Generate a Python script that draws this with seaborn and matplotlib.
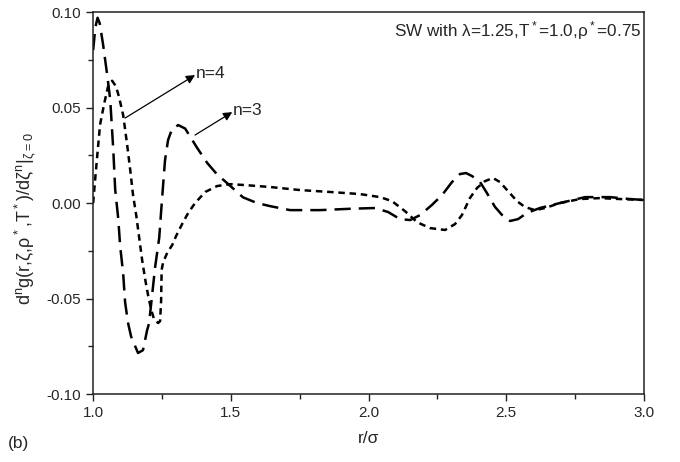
import numpy as np
import pandas as pd
import seaborn as sns
import matplotlib
matplotlib.use("Agg")
import matplotlib.pyplot as plt
from matplotlib.ticker import MultipleLocator

# n=3 curve (long dashes)
r_n3 = [1.000, 1.008, 1.016, 1.024, 1.036, 1.051, 1.062, 1.073, 1.080, 1.091,
        1.098, 1.109, 1.116, 1.127, 1.138, 1.163, 1.181, 1.196, 1.203, 1.225,
        1.240, 1.247, 1.254, 1.261, 1.272, 1.287, 1.309, 1.334, 1.377, 1.414,
        1.450, 1.486, 1.544, 1.595, 1.642, 1.715, 1.824, 1.933, 2.024, 2.071,
        2.114, 2.151, 2.187, 2.230, 2.267, 2.303, 2.332, 2.354, 2.376, 2.405,
        2.430, 2.459, 2.488, 2.514, 2.543, 2.575, 2.622, 2.695, 2.786, 2.877,
        2.949, 3.000]
g_n3 = [0.080, 0.092, 0.097, 0.094, 0.083, 0.067, 0.054, 0.028, 0.007, -0.008,
        -0.0225, -0.037, -0.052, -0.063, -0.070, -0.0785, -0.077, -0.0665, -0.063, -0.0335,
        -0.018, -0.004, 0.0094, 0.0225, 0.033, 0.039, 0.0408, 0.039, 0.029, 0.021,
        0.015, 0.0105, 0.003, 0.0, -0.0016, -0.0037, -0.0037, -0.003, -0.0026, -0.0047,
        -0.0084, -0.0089, -0.0063, -0.001, 0.0042, 0.011, 0.0152, 0.0157, 0.0141, 0.011,
        0.0052, -0.002, -0.0068, -0.0094, -0.0084, -0.0052, -0.0026, 0.0, 0.0031, 0.0031,
        0.0021, 0.0016]

# n=4 curve (short dashes)
r_n4 = [1.000, 1.007, 1.015, 1.025, 1.040, 1.054, 1.069, 1.083, 1.094, 1.109,
        1.123, 1.134, 1.145, 1.156, 1.167, 1.178, 1.189, 1.200, 1.211, 1.221,
        1.236, 1.243, 1.2468, 1.2486, 1.254, 1.269, 1.287, 1.301, 1.323, 1.345,
        1.370, 1.407, 1.450, 1.497, 1.552, 1.642, 1.751, 1.860, 1.969, 2.042,
        2.085, 2.132, 2.176, 2.223, 2.278, 2.314, 2.339, 2.368, 2.394, 2.423,
        2.452, 2.477, 2.503, 2.539, 2.568, 2.604, 2.641, 2.695, 2.768, 2.840,
        2.913, 3.000]
g_n4 = [0.0, 0.012, 0.025, 0.041, 0.052, 0.061, 0.064, 0.061, 0.0555, 0.046,
        0.031, 0.018, 0.004, -0.006, -0.018, -0.030, -0.040, -0.0487, -0.056, -0.0607,
        -0.0628, -0.0618, -0.051, -0.035, -0.031, -0.026, -0.022, -0.0173, -0.011, -0.0052,
        0.0, 0.0058, 0.0089, 0.0099, 0.0094, 0.0084, 0.0068, 0.0058, 0.0047, 0.0031,
        0.001, -0.0042, -0.010, -0.0131, -0.0141, -0.011, -0.0063, 0.0026, 0.0079, 0.0115,
        0.0131, 0.011, 0.0068, 0.001, -0.0021, -0.0037, -0.0026, 0.0, 0.0021, 0.0026,
        0.0021, 0.0016]

df = pd.concat([
    pd.DataFrame({"r": r_n3, "g": g_n3, "n": "n=3"}),
    pd.DataFrame({"r": r_n4, "g": g_n4, "n": "n=4"}),
], ignore_index=True)

sns.set_style("ticks")
plt.rcParams["font.family"] = ["Liberation Sans", "DejaVu Sans"]
plt.rcParams["mathtext.default"] = "regular"

fig = plt.figure(figsize=(6.8, 4.62), dpi=100)
ax = fig.add_axes([0.137, 0.147, 0.81, 0.827])

sns.lineplot(data=df, x="r", y="g", style="n", estimator=None, sort=False,
             dashes={"n=3": (6.5, 3.2), "n=4": (2.6, 1.9)},
             color="black", linewidth=1.8, legend=False, ax=ax)

ax.set_xlim(1.0, 3.0)
ax.set_ylim(-0.10, 0.10)
ax.xaxis.set_major_locator(MultipleLocator(0.5))
ax.xaxis.set_minor_locator(MultipleLocator(0.25))
ax.yaxis.set_major_locator(MultipleLocator(0.05))
ax.yaxis.set_minor_locator(MultipleLocator(0.025))
ax.xaxis.set_major_formatter(matplotlib.ticker.FormatStrFormatter("%.1f"))
ax.yaxis.set_major_formatter(matplotlib.ticker.FormatStrFormatter("%.2f"))
ax.tick_params(which="major", length=5, width=1, labelsize=11, color="#222222")
ax.tick_params(which="minor", length=3.5, width=1, color="#222222")
for s in ax.spines.values():
    s.set_linewidth(1.1)
    s.set_color("#222222")

ax.set_xlabel("r/σ", fontsize=12.5, labelpad=8)
ax.set_ylabel(r"d$^n$g(r,ζ,ρ$^*$,T$^*$)/dζ$^n$|$_{ζ=0}$", fontsize=13)
ax.yaxis.set_label_coords(-0.1, 0.46)

ax.text(0.995, 0.982, r"SW with λ=1.25,T$^*$=1.0,ρ$^*$=0.75", transform=ax.transAxes,
        ha="right", va="top", fontsize=12.3)

arrow = dict(arrowstyle="-|>", color="black", lw=0.9, mutation_scale=13,
             shrinkA=0, shrinkB=0)
ax.annotate("", xy=(1.370, 0.067), xytext=(1.116, 0.0445), arrowprops=arrow)
ax.text(1.372, 0.068, "n=4", fontsize=12.5, ha="left", va="center")
ax.annotate("", xy=(1.505, 0.0476), xytext=(1.370, 0.0356), arrowprops=arrow)
ax.text(1.507, 0.0485, "n=3", fontsize=12.5, ha="left", va="center")

fig.text(0.012, 0.03, "(b)", fontsize=12.5)

fig.savefig("out.png", dpi=100)
